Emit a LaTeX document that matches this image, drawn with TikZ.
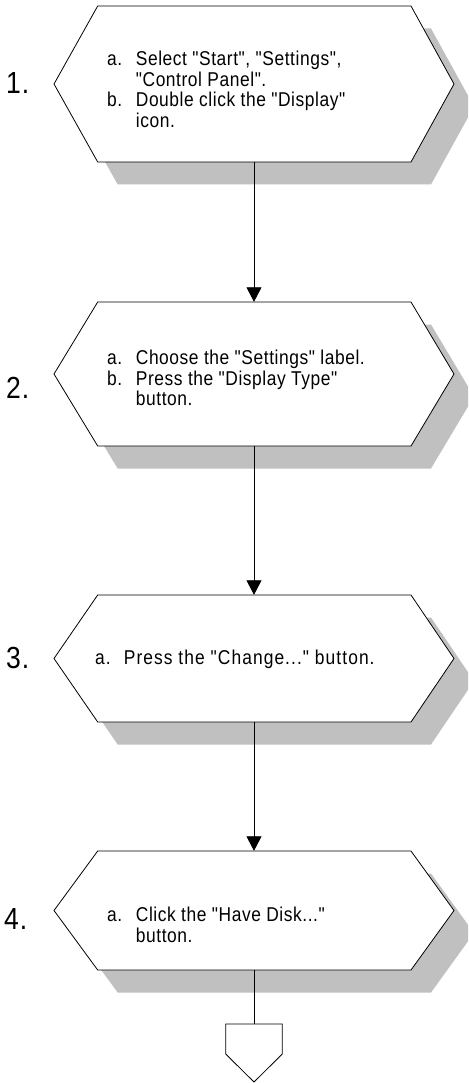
\documentclass[tikz,border=0pt]{standalone}
\usepackage{fontspec}
\newfontfamily\stepfont{Liberation Sans}[FakeStretch=0.87,LetterSpace=2.8]
\newfontfamily\stepfontwide{Liberation Sans}[FakeStretch=0.87,LetterSpace=5.3]
\usetikzlibrary{arrows.meta}
\definecolor{shadowgray}{RGB}{192,192,192}
% #1 = centre y, #2 = half height
\newcommand\drawhex[2]{%
  \fill[shadowgray] (74,{#1+22.5}) -- (117.7,{#1-#2+22.5}) -- (431,{#1-#2+22.5}) -- (474,{#1+22.5}) -- (431,{#1+#2+22.5}) -- (117.7,{#1+#2+22.5}) -- cycle;
  \draw[hexline] (54,#1) -- (97.7,{#1-#2}) -- (411,{#1-#2}) -- (454,#1) -- (411,{#1+#2}) -- (97.7,{#1+#2}) -- cycle;
}
\tikzset{
  hexline/.style={draw=black, fill=white, line width=0.8pt, line join=miter},
  hexbox/.style={inner sep=0pt, minimum width=400pt, draw=none},
  steptext/.style={anchor=base west, inner sep=0pt, font=\stepfont\fontsize{20}{22}\selectfont},
  steptextwide/.style={anchor=base west, inner sep=0pt, font=\stepfontwide\fontsize{20}{22}\selectfont},
  numlabel/.style={anchor=base west, inner sep=0pt, font=\stepfont\fontsize{30.5}{32}\selectfont},
  flow/.style={draw=black, line width=0.8pt, -{Triangle[length=14.5pt,width=15pt]}},
  plain/.style={draw=black, line width=0.8pt},
}
\newcommand\lab[1]{\makebox[28.7pt][l]{#1}}
\begin{document}
\begin{tikzpicture}[x=1pt,y=-1pt]
\clip (0,0) rectangle (468,1083);
\fill[white] (0,0) rectangle (468,1083);

% hexagons
\drawhex{84}{78}
\drawhex{374}{72}
\drawhex{658.5}{63.5}
\drawhex{910.5}{59.5}

\node[hexbox, minimum height=156pt] (h1) at (254,84) {};
\node[hexbox, minimum height=144pt] (h2) at (254,374) {};
\node[hexbox, minimum height=127pt] (h3) at (254,658.5) {};
\node[hexbox, minimum height=119pt] (h4) at (254,910.5) {};

% numbers
\node[numlabel] (n1) at (6,94) {1.};
\node[numlabel] (n2) at (6,398) {2.};
\node[numlabel] (n3) at (6,668) {3.};
\node[numlabel] (n4) at (4,929) {4.};

% step 1
\node[steptext] (t1a) at (107,65.7) {\lab{a.}Select "Start", "Settings",};
\node[steptext] (t1b) at (135.7,86.3) {"Control Panel".};
\node[steptext] (t1c) at (107,106.9) {\lab{b.}Double click the "Display"};
\node[steptext] (t1d) at (135.7,127.5) {icon.};

% step 2
\node[steptext] (t2a) at (107,364.3) {\lab{a.}Choose the "Settings" label.};
\node[steptext] (t2b) at (107,385) {\lab{b.}Press the "Display Type"};
\node[steptext] (t2c) at (135.7,405.6) {button.};

% step 3
\node[steptextwide] (t3a) at (95,664.5) {\lab{a.}Press the "Change..." button.};

% step 4
\node[steptext] (t4a) at (107,921.7) {\lab{a.}Click the "Have Disk..."};
\node[steptext] (t4b) at (135.7,942.3) {button.};

% off-page connector
\coordinate (opc) at (254,1024);
\draw[hexline] (225.7,1024) -- (282.3,1024) -- (282.3,1054) -- (254,1082) -- (225.7,1054) -- cycle;

% connectors
\draw[flow] (h1.south) -- (h2.north);
\draw[flow] (h2.south) -- (h3.north);
\draw[flow] (h3.south) -- (h4.north);
\draw[plain] (h4.south) -- (opc);
\end{tikzpicture}
\end{document}
